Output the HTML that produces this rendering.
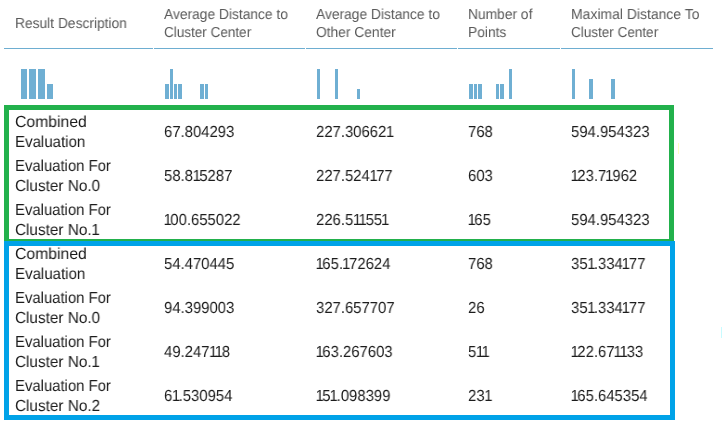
<!DOCTYPE html>
<html><head><meta charset="utf-8"><title>Cluster evaluation</title>
<style>
html,body{margin:0;padding:0;background:#fff;}
body{width:727px;height:423px;position:relative;overflow:hidden;font-family:"Liberation Sans",sans-serif;}
.t{position:absolute;white-space:nowrap;line-height:20px;height:20px;transform-origin:0 0;will-change:transform;text-rendering:geometricPrecision;}
.h{font-size:14.5px;color:#5a5a5a;transform:scaleX(0.951);}
.c{font-size:16px;color:#1c1c1c;transform:scaleX(0.929);}
i{font-style:normal;margin:0 -1.2px;}
.c>i:first-child{margin:0 -1.7px 0 -0.4px;}
.b{position:absolute;background:#6fafd3;}
.ln{position:absolute;top:48px;height:1px;background:#6eaed1;}
.g{position:absolute;left:4px;top:105px;width:660px;height:129px;border:5px solid #22b14c;}
.bl{position:absolute;left:4px;top:241px;width:661px;height:169px;border:5px solid #00a2e8;}
</style></head><body>

<div class="ln" style="left:4px;width:149px"></div>
<div class="ln" style="left:154px;width:151px"></div>
<div class="ln" style="left:306px;width:151px"></div>
<div class="ln" style="left:458px;width:102px"></div>
<div class="ln" style="left:561px;width:152px"></div>
<div class="t h" style="left:15px;top:14px">Result Description</div>
<div class="t h" style="left:164px;top:5px">Average Distance to</div>
<div class="t h" style="left:164px;top:23px;transform:scaleX(0.9320)">Cluster Center</div>
<div class="t h" style="left:316px;top:5px">Average Distance to</div>
<div class="t h" style="left:316px;top:23px">Other Center</div>
<div class="t h" style="left:468px;top:5px">Number of</div>
<div class="t h" style="left:468px;top:23px">Points</div>
<div class="t h" style="left:571px;top:5px;transform:scaleX(0.9624)">Maximal Distance To</div>
<div class="t h" style="left:571px;top:23px;transform:scaleX(0.9320)">Cluster Center</div>
<div class="b" style="left:21px;top:69px;width:6px;height:30px"></div>
<div class="b" style="left:29px;top:69px;width:7px;height:30px"></div>
<div class="b" style="left:38px;top:69px;width:7px;height:30px"></div>
<div class="b" style="left:47px;top:84px;width:6px;height:15px"></div>
<div class="b" style="left:165px;top:84px;width:4px;height:15px"></div>
<div class="b" style="left:170px;top:69px;width:3px;height:30px"></div>
<div class="b" style="left:174px;top:84px;width:3px;height:15px"></div>
<div class="b" style="left:178px;top:84px;width:4px;height:15px"></div>
<div class="b" style="left:200px;top:84px;width:4px;height:15px"></div>
<div class="b" style="left:205px;top:84px;width:3px;height:15px"></div>
<div class="b" style="left:317px;top:69px;width:3px;height:30px"></div>
<div class="b" style="left:335px;top:69px;width:3px;height:30px"></div>
<div class="b" style="left:357px;top:89px;width:3px;height:10px"></div>
<div class="b" style="left:469px;top:84px;width:4px;height:15px"></div>
<div class="b" style="left:474px;top:84px;width:3px;height:15px"></div>
<div class="b" style="left:478px;top:84px;width:4px;height:15px"></div>
<div class="b" style="left:496px;top:84px;width:3px;height:15px"></div>
<div class="b" style="left:500px;top:84px;width:4px;height:15px"></div>
<div class="b" style="left:509px;top:69px;width:3px;height:30px"></div>
<div class="b" style="left:572px;top:69px;width:3px;height:30px"></div>
<div class="b" style="left:589px;top:79px;width:4px;height:20px"></div>
<div class="b" style="left:611px;top:79px;width:4px;height:20px"></div>
<div class="g"></div><div class="bl"></div>
<div style="position:absolute;left:678px;top:143px;width:1px;height:11px;background:#ffffc4"></div>
<div style="position:absolute;left:721px;top:327px;width:1px;height:11px;background:#c8fbff"></div>
<div class="t c" style="left:15px;top:113px;transform:scaleX(0.9838)">Combined</div>
<div class="t c" style="left:15px;top:133px;transform:scaleX(0.9401)">Evaluation</div>
<div class="t c" style="left:164px;top:123px">67.804293</div>
<div class="t c" style="left:316px;top:123px">227.30662<i>1</i></div>
<div class="t c" style="left:468px;top:123px">768</div>
<div class="t c" style="left:571px;top:123px">594.954323</div>
<div class="t c" style="left:15px;top:157px">Evaluation For</div>
<div class="t c" style="left:15px;top:177px;transform:scaleX(0.9569)">Cluster No.0</div>
<div class="t c" style="left:164px;top:167px">58.8<i>1</i>5287</div>
<div class="t c" style="left:316px;top:167px">227.524<i>1</i>77</div>
<div class="t c" style="left:468px;top:167px">603</div>
<div class="t c" style="left:571px;top:167px"><i>1</i>23.7<i>1</i>962</div>
<div class="t c" style="left:15px;top:201px">Evaluation For</div>
<div class="t c" style="left:15px;top:221px;transform:scaleX(0.9569)">Cluster No.<i>1</i></div>
<div class="t c" style="left:164px;top:211px"><i>1</i>00.655022</div>
<div class="t c" style="left:316px;top:211px">226.5<i>1</i><i>1</i>55<i>1</i></div>
<div class="t c" style="left:468px;top:211px"><i>1</i>65</div>
<div class="t c" style="left:571px;top:211px">594.954323</div>
<div class="t c" style="left:15px;top:245px;transform:scaleX(0.9838)">Combined</div>
<div class="t c" style="left:15px;top:265px;transform:scaleX(0.9401)">Evaluation</div>
<div class="t c" style="left:164px;top:255px">54.470445</div>
<div class="t c" style="left:316px;top:255px"><i>1</i>65.<i>1</i>72624</div>
<div class="t c" style="left:468px;top:255px">768</div>
<div class="t c" style="left:571px;top:255px">35<i>1</i>.334<i>1</i>77</div>
<div class="t c" style="left:15px;top:289px">Evaluation For</div>
<div class="t c" style="left:15px;top:309px;transform:scaleX(0.9569)">Cluster No.0</div>
<div class="t c" style="left:164px;top:299px">94.399003</div>
<div class="t c" style="left:316px;top:299px">327.657707</div>
<div class="t c" style="left:468px;top:299px">26</div>
<div class="t c" style="left:571px;top:299px">35<i>1</i>.334<i>1</i>77</div>
<div class="t c" style="left:15px;top:333px">Evaluation For</div>
<div class="t c" style="left:15px;top:353px;transform:scaleX(0.9569)">Cluster No.<i>1</i></div>
<div class="t c" style="left:164px;top:343px">49.247<i>1</i><i>1</i>8</div>
<div class="t c" style="left:316px;top:343px"><i>1</i>63.267603</div>
<div class="t c" style="left:468px;top:343px">5<i>1</i><i>1</i></div>
<div class="t c" style="left:571px;top:343px"><i>1</i>22.67<i>1</i><i>1</i>33</div>
<div class="t c" style="left:15px;top:377px">Evaluation For</div>
<div class="t c" style="left:15px;top:397px;transform:scaleX(0.9569)">Cluster No.2</div>
<div class="t c" style="left:164px;top:387px">6<i>1</i>.530954</div>
<div class="t c" style="left:316px;top:387px"><i>1</i>5<i>1</i>.098399</div>
<div class="t c" style="left:468px;top:387px">23<i>1</i></div>
<div class="t c" style="left:571px;top:387px"><i>1</i>65.645354</div>
</body></html>
